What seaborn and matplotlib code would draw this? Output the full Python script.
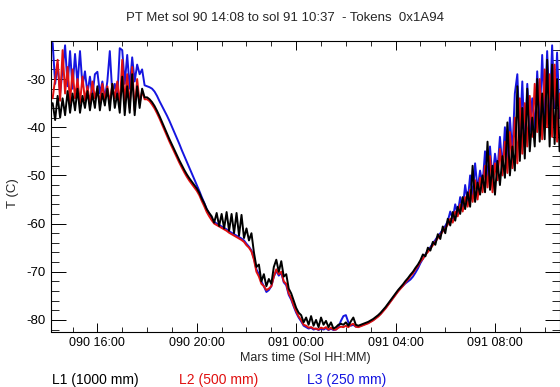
import numpy as np
import pandas as pd
import seaborn as sns
import matplotlib
matplotlib.use("Agg")
import matplotlib.pyplot as plt
from matplotlib.ticker import MultipleLocator

# ---- data (hours since sol 90 00:00, temperature in C), sampled every 0.1 h
hours = np.round(np.arange(14.2, 34.65, 0.1), 1)

l1_1000mm = [
    -35.0, -38.5, -33.5, -38.0, -34.0, -37.5, -32.5, -37.0, -33.0, -36.5,
    -32.0, -37.0, -33.5, -36.0, -32.5, -36.5, -33.0, -36.0, -31.5, -36.5,
    -33.0, -35.5, -32.0, -36.5, -31.0, -36.0, -33.0, -37.0, -29.5, -37.5,
    -31.5, -37.0, -29.0, -37.5, -31.5, -36.0, -32.0, -33.8, -33.8, -34.2,
    -34.8, -35.6, -36.6, -37.7, -38.9, -40.1, -41.3, -42.5, -43.6, -44.7,
    -45.8, -46.9, -47.9, -48.9, -49.8, -50.6, -51.3, -52.0, -52.7, -53.6,
    -54.8, -55.8, -57.0, -57.8, -58.5, -59.8, -57.8, -60.5, -58.0, -61.0,
    -57.6, -61.5, -58.0, -62.0, -57.8, -62.5, -58.2, -63.0, -61.0, -63.5,
    -62.0, -66.0, -69.0, -68.5, -72.0, -70.5, -73.0, -71.5, -72.5, -69.0,
    -67.5, -70.0, -67.8, -71.0, -70.5, -73.5, -74.5, -76.0, -77.5, -78.5,
    -79.0, -80.5, -79.5, -81.0, -79.2, -81.2, -80.0, -81.5, -79.5, -81.0,
    -80.2, -81.5, -80.5, -81.8, -81.5, -81.0, -80.8, -81.0, -80.5, -81.2,
    -80.3, -79.5, -81.0, -81.2, -81.0, -80.8, -80.6, -80.4, -80.1, -79.8,
    -79.4, -79.0, -78.5, -77.9, -77.3, -76.6, -75.9, -75.2, -74.5, -73.8,
    -73.2, -72.6, -71.9, -71.3, -70.6, -70.0, -69.2, -68.5, -67.6, -66.4,
    -66.8, -65.0, -65.6, -63.8, -64.4, -62.2, -63.2, -60.6, -62.0, -59.0,
    -60.4, -57.6, -59.4, -56.5, -58.0, -54.5, -57.0, -53.5, -56.5, -48.0,
    -55.5, -51.5, -54.0, -50.0, -53.5, -43.0, -53.0, -48.0, -54.0, -47.0,
    -52.0, -46.0, -50.5, -39.0, -50.0, -44.0, -49.0, -31.5, -47.0, -36.0,
    -46.5, -32.0, -45.0, -38.0, -44.0, -30.0, -43.0, -33.0, -42.5, -26.0,
    -44.0, -27.0, -43.5, -30.0, -45.0,
]

l2_500mm = [
    -34.0, -30.0, -26.0, -34.5, -24.0, -33.0, -27.5, -35.0, -28.0, -34.0,
    -30.0, -35.0, -29.5, -34.5, -31.5, -35.0, -30.5, -34.0, -32.0, -35.0,
    -31.0, -34.5, -31.5, -35.0, -31.0, -34.0, -30.5, -35.5, -26.0, -35.0,
    -29.0, -36.0, -27.5, -36.5, -30.0, -35.0, -32.5, -34.2, -34.2, -34.6,
    -35.3, -36.1, -37.1, -38.2, -39.4, -40.6, -41.8, -43.0, -44.1, -45.2,
    -46.3, -47.4, -48.4, -49.4, -50.3, -51.1, -51.8, -52.5, -53.2, -54.1,
    -55.3, -56.4, -57.6, -58.5, -59.3, -60.0, -60.3, -60.6, -60.9, -61.2,
    -61.5, -61.9, -62.2, -62.5, -62.8, -63.1, -63.4, -63.8, -64.5, -65.0,
    -65.8, -67.5, -70.0, -71.0, -72.5, -73.0, -73.8, -73.5, -73.0, -71.0,
    -69.5, -70.5, -70.0, -72.0, -72.5, -74.5, -75.5, -77.0, -78.2, -79.3,
    -80.0, -81.0, -81.2, -81.6, -81.5, -81.8, -81.8, -82.0, -81.6, -81.8,
    -81.5, -82.0, -81.6, -82.0, -82.0, -81.6, -81.4, -81.5, -81.2, -81.5,
    -81.0, -80.8, -81.4, -81.5, -81.3, -81.1, -80.9, -80.7, -80.4, -80.1,
    -79.7, -79.3, -78.8, -78.2, -77.6, -76.9, -76.2, -75.5, -74.8, -74.1,
    -73.5, -72.9, -72.2, -71.6, -70.9, -70.3, -69.5, -68.8, -67.9, -67.3,
    -66.5, -65.9, -65.2, -64.5, -63.8, -63.0, -62.4, -61.6, -61.0, -60.2,
    -59.0, -59.8, -57.5, -58.5, -56.0, -57.5, -54.5, -56.5, -53.0, -55.5,
    -51.0, -55.0, -50.5, -53.5, -48.0, -52.5, -46.0, -53.5, -47.5, -51.0,
    -44.5, -50.0, -43.0, -49.5, -41.0, -48.5, -38.0, -47.5, -34.0, -45.5,
    -35.0, -44.0, -33.5, -42.0, -31.0, -41.0, -30.0, -42.5, -28.0, -40.0,
    -29.0, -42.0, -27.0, -43.0, -33.0,
]

l3_250mm = [
    -22.5, -31.0, -27.0, -33.0, -28.0, -23.0, -31.5, -24.2, -32.0, -24.8,
    -31.0, -24.2, -31.5, -28.4, -33.0, -29.5, -33.5, -29.0, -28.5, -33.0,
    -30.5, -34.0, -30.5, -24.2, -33.0, -31.0, -34.0, -23.6, -24.0, -31.0,
    -25.0, -32.0, -25.5, -30.5, -27.0, -29.0, -28.0, -31.3, -31.5, -31.7,
    -32.0, -32.6, -33.5, -34.6, -35.6, -36.6, -37.6, -38.7, -39.9, -41.1,
    -42.3, -43.5, -44.8, -46.0, -47.2, -48.4, -49.6, -50.8, -52.0, -53.2,
    -54.5, -55.7, -57.0, -58.0, -58.9, -59.6, -60.0, -60.3, -60.6, -60.9,
    -61.2, -61.6, -61.9, -62.2, -62.5, -62.8, -63.1, -63.5, -64.2, -64.8,
    -65.6, -67.2, -69.5, -70.5, -72.0, -73.0, -74.2, -73.8, -73.0, -71.0,
    -69.8, -70.8, -70.2, -72.2, -72.8, -74.8, -75.8, -77.2, -78.5, -79.5,
    -80.3, -81.2, -81.5, -81.8, -81.6, -82.0, -81.8, -82.1, -81.8, -82.0,
    -81.7, -82.1, -81.8, -82.1, -82.0, -81.5, -80.2, -79.2, -79.0, -80.5,
    -81.2, -81.0, -81.4, -81.4, -81.2, -81.0, -80.8, -80.6, -80.3, -80.0,
    -79.6, -79.2, -78.7, -78.1, -77.5, -76.8, -76.1, -75.4, -74.7, -74.0,
    -73.4, -72.9, -72.4, -72.0, -71.6, -71.0, -70.2, -69.3, -68.2, -67.3,
    -66.4, -65.6, -64.9, -64.1, -63.4, -62.6, -62.0, -61.2, -60.5, -59.5,
    -57.5, -59.0, -56.0, -58.0, -54.5, -57.0, -52.0, -55.5, -50.0, -54.5,
    -47.5, -53.0, -49.0, -52.0, -45.0, -50.5, -44.0, -51.0, -45.5, -49.0,
    -42.0, -48.5, -40.0, -47.0, -38.0, -45.5, -33.0, -29.0, -42.0, -30.5,
    -44.0, -31.0, -41.0, -34.0, -40.5, -28.4, -39.0, -25.0, -38.0, -24.2,
    -37.0, -23.0, -36.0, -24.5, -38.0,
]

series_names = ["L1 (1000 mm)", "L2 (500 mm)", "L3 (250 mm)"]
series_colors = ["black", "#e01010", "#1515e0"]
xtick_pos = [16, 20, 24, 28, 32]
xtick_labels = ["090 16:00", "090 20:00", "091 00:00", "091 04:00", "091 08:00"]
title_text = "PT Met sol 90 14:08 to sol 91 10:37  - Tokens  0x1A94"

assert len(l1_1000mm) == len(hours) == len(l2_500mm) == len(l3_250mm)

df = pd.DataFrame({
    "hours": np.concatenate([hours, hours, hours]),
    "T": np.concatenate([l1_1000mm, l2_500mm, l3_250mm]),
    "sensor": np.repeat(series_names, len(hours)),
})

sns.set_theme(style="white")
plt.rcParams["font.family"] = ["Liberation Sans", "DejaVu Sans"]

fig = plt.figure(figsize=(5.6, 3.87), dpi=100)
ax = fig.add_axes([51 / 560, 1 - 331.5 / 387, 509 / 560, 291 / 387])

# draw order: L3 (blue), L2 (red), L1 (black) on top
for name, col in zip(series_names[::-1], series_colors[::-1]):
    sub = df[df["sensor"] == name]
    sns.lineplot(data=sub, x="hours", y="T", color=col, lw=1.4,
                 estimator=None, sort=False, ax=ax, legend=False)

ax.set_xlim(14.133, 34.617)
ax.set_ylim(-82.4, -22.0)
ax.set_xticks(xtick_pos)
ax.set_xticklabels(xtick_labels, fontsize=9)
ax.xaxis.set_minor_locator(MultipleLocator(1))
ax.set_yticks([-30, -40, -50, -60, -70, -80])
ax.set_yticklabels(["-30", "-40", "-50", "-60", "-70", "-80"], fontsize=9.5)
ax.yaxis.set_minor_locator(MultipleLocator(2))

ax.tick_params(axis="x", which="major", direction="in", length=6.5, width=0.7,
               top=True, bottom=True, pad=4, colors="black")
ax.tick_params(axis="x", which="minor", direction="in", length=3.3, width=0.7,
               top=True, bottom=True)
ax.tick_params(axis="y", which="major", direction="in", length=11, width=0.7,
               left=True, right=True, pad=4, colors="black")
ax.tick_params(axis="y", which="minor", direction="in", length=5.8, width=0.7,
               left=True, right=True)
for sp in ax.spines.values():
    sp.set_color("black")
    sp.set_linewidth(0.8)
    sp.set_visible(True)

ax.set_xlabel("Mars time (Sol HH:MM)", fontsize=9, labelpad=2)
ax.set_ylabel("T (C)", fontsize=9.5)
ax.yaxis.set_label_coords((19 - 51) / 509, (331.5 - 193) / 291)

fig.text(285 / 560, 1 - 18 / 387, title_text, ha="center", va="center", fontsize=9.5)
legend_x = [52, 179, 307]
for name, col, xp in zip(series_names, series_colors, legend_x):
    fig.text(xp / 560, 1 - 380 / 387, name, color=col, ha="left", va="center", fontsize=10)

fig.savefig("out.png", dpi=100)
